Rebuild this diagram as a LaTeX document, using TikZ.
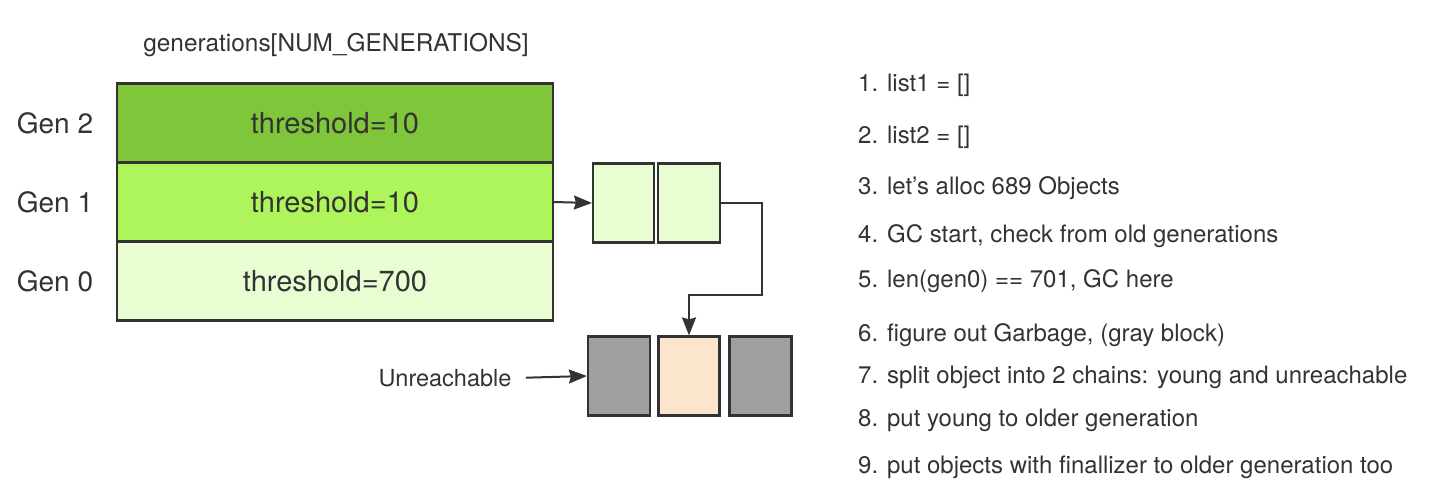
\documentclass[tikz,border=0pt]{standalone}
\usepackage{fontspec}
\setmainfont{TeX Gyre Heros}
\usetikzlibrary{positioning,arrows.meta}

\definecolor{gentwo}{HTML}{7FC63B}
\definecolor{genone}{HTML}{ADF55A}
\definecolor{genzero}{HTML}{E9FDD2}
\definecolor{garbage}{HTML}{A0A0A0}
\definecolor{young}{HTML}{FBE5CD}
\definecolor{ink}{HTML}{333333}

\tikzset{
  genrow/.style={draw=ink, line width=2.2pt, minimum width=436pt, minimum height=79pt,
    inner sep=0pt, outer sep=0pt, text=ink, font=\fontsize{29}{32}\selectfont},
  genlabel/.style={text=ink, font=\fontsize{28}{32}\selectfont},
  objbox/.style={draw=ink, line width=2.2pt, minimum width=62pt, minimum height=79pt, inner sep=0pt},
  conn/.style={draw=ink, line width=2pt, -{Stealth[length=18pt,width=14pt,inset=2pt]}},
  note/.style={anchor=west, text=ink, inner sep=0pt, text height=17pt, text depth=5pt,
    font=\fontsize{24}{28}\selectfont}
}

\begin{document}
\begin{tikzpicture}[x=1pt,y=-1pt]
  \useasboundingbox (0,0) rectangle (1440,502);

  % generations table
  \node[text=ink, font=\fontsize{24.4}{28}\selectfont] (title) at (336,45) {generations[NUM\_GENERATIONS]};
  \node[genrow, fill=gentwo] (g2) at (335,123) {threshold=10};
  \node[genrow, fill=genone, below=0pt of g2] (g1) {threshold=10};
  \node[genrow, fill=genzero, below=0pt of g1] (g0) {threshold=700};

  \node[genlabel] (l2) at (55,123) {Gen 2};
  \node[genlabel] (l1) at (55,202) {Gen 1};
  \node[genlabel] (l0) at (55,281) {Gen 0};

  % objects linked to gen 1
  \node[objbox, fill=genzero, minimum width=61pt] (ya) at (623.5,203) {};
  \node[objbox, fill=genzero] (yb) at (689,203) {};

  % after the split
  \node[objbox, fill=garbage] (ga) at (619,376) {};
  \node[objbox, fill=young, minimum width=61pt] (ym) at (689,376) {};
  \node[objbox, fill=garbage] (gb) at (760.5,376) {};

  \node[text=ink, font=\fontsize{23.5}{28}\selectfont] (unr) at (445,378) {Unreachable};

  \coordinate (turn) at (762,295);
  \draw[conn] (g1.east) -- (ya.west);
  \draw[conn] (yb.east) -| (turn) -| (ym.north);
  \draw[conn, shorten <=11pt] (unr.east) -- (ga.west);

  % steps
  \foreach \y/\txt [count=\i] in {86/{list1 = []}, 138/{list2 = []},
      189/{let's alloc 689 Objects}, 237/{GC start, check from old generations},
      282/{len(gen0) == 701, GC here}, 336/{figure out Garbage, (gray block)},
      378/{split object into 2 chains: young and unreachable},
      420/{put young to older generation},
      467/{put objects with finallizer to older generation too}}
    \node[note] (step\i) at (858,\y) {\i. \txt};
\end{tikzpicture}
\end{document}
